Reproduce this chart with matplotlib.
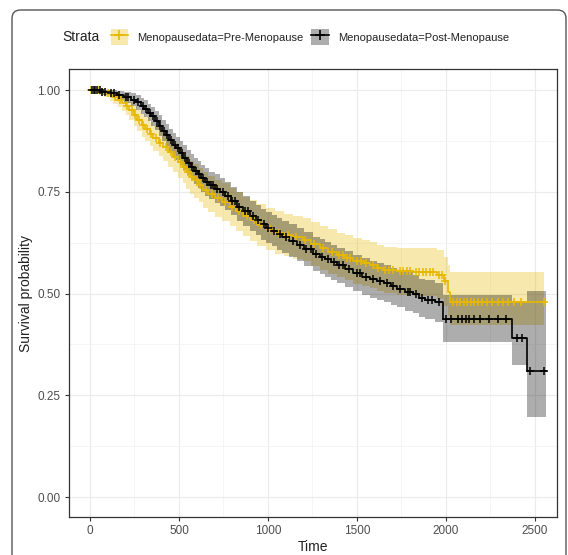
import numpy as np
import matplotlib
matplotlib.use("Agg")
import matplotlib.pyplot as plt
from matplotlib.patches import Rectangle, FancyBboxPatch
from matplotlib.lines import Line2D
from matplotlib.ticker import MultipleLocator

plt.rcParams['font.family'] = ['Liberation Sans', 'DejaVu Sans']

# Kaplan-Meier estimates: Pre-Menopause (time, survival, 95% CI)
t_pre = [0, 50, 80, 110, 130, 155, 180, 200, 220, 245, 264, 290, 310, 335, 355, 385, 410, 440,
         466, 495, 520, 540, 562, 585, 610, 635, 665, 700, 740, 787, 820, 860, 900, 938, 990,
         1040, 1090, 1140, 1197, 1240, 1290, 1340, 1388, 1430, 1480, 1530, 1573, 1610, 1650,
         1725, 1815, 1950, 1990, 2010, 2025]
s_pre = [1.000, 0.996, 0.993, 0.988, 0.983, 0.976, 0.968, 0.960, 0.951, 0.939, 0.927, 0.915,
         0.905, 0.893, 0.882, 0.870, 0.860, 0.848, 0.836, 0.823, 0.810, 0.798, 0.787, 0.778,
         0.767, 0.755, 0.745, 0.735, 0.725, 0.713, 0.702, 0.690, 0.680, 0.669, 0.659, 0.650,
         0.644, 0.638, 0.632, 0.622, 0.612, 0.603, 0.595, 0.588, 0.580, 0.575, 0.570, 0.563,
         0.558, 0.555, 0.553, 0.546, 0.530, 0.505, 0.480]
lo_pre = [1.000, 0.988, 0.982, 0.974, 0.967, 0.958, 0.948, 0.938, 0.927, 0.913, 0.900, 0.886,
          0.875, 0.862, 0.850, 0.837, 0.826, 0.812, 0.799, 0.785, 0.771, 0.758, 0.746, 0.736,
          0.724, 0.711, 0.700, 0.689, 0.678, 0.665, 0.653, 0.641, 0.630, 0.618, 0.608, 0.598,
          0.592, 0.586, 0.579, 0.568, 0.558, 0.549, 0.540, 0.533, 0.524, 0.519, 0.513, 0.506,
          0.501, 0.497, 0.495, 0.487, 0.470, 0.445, 0.423]
hi_pre = [1.000, 1.000, 1.000, 0.998, 0.995, 0.990, 0.985, 0.978, 0.971, 0.961, 0.951, 0.941,
          0.933, 0.922, 0.913, 0.902, 0.893, 0.882, 0.871, 0.860, 0.848, 0.837, 0.827, 0.819,
          0.809, 0.798, 0.789, 0.780, 0.771, 0.760, 0.750, 0.738, 0.729, 0.719, 0.710, 0.702,
          0.696, 0.691, 0.686, 0.676, 0.666, 0.658, 0.650, 0.643, 0.636, 0.631, 0.627, 0.620,
          0.615, 0.612, 0.611, 0.606, 0.591, 0.570, 0.552]
end_pre = 2550
cens_pre = [5, 25, 45, 65, 100, 140, 170, 210, 235, 255, 275, 300, 320, 345, 370, 395, 425,
            455, 480, 510, 530, 550, 575, 600, 620, 650, 685, 720, 760, 800, 840, 880, 920, 960,
            1010, 1060, 1110, 1160, 1210, 1260, 1310, 1360, 1400, 1420, 1445, 1460, 1500, 1520,
            1550, 1590, 1620, 1660, 1680, 1700, 1740, 1760, 1780, 1800, 1830, 1850, 1870, 1890,
            1910, 1930, 1960, 1980, 1995, 2040, 2060, 2080, 2100, 2120, 2140, 2160, 2180, 2200,
            2230, 2260, 2290, 2320, 2350, 2380, 2420, 2550]

# Kaplan-Meier estimates: Post-Menopause (time, survival, 95% CI)
t_post = [0, 60, 110, 150, 190, 230, 260, 285, 305, 325, 345, 365, 385, 405, 425, 445, 465,
          485, 505, 525, 545, 565, 585, 605, 625, 645, 670, 700, 730, 760, 790, 826, 860, 900,
          930, 960, 990, 1020, 1050, 1080, 1120, 1163, 1200, 1253, 1290, 1320, 1355, 1388, 1430,
          1480, 1530, 1573, 1610, 1650, 1690, 1725, 1770, 1815, 1850, 1880, 1940, 1985, 2370,
          2455]
s_post = [1.000, 0.996, 0.992, 0.987, 0.983, 0.977, 0.970, 0.962, 0.954, 0.945, 0.936, 0.925,
          0.913, 0.900, 0.889, 0.877, 0.866, 0.857, 0.846, 0.834, 0.822, 0.811, 0.802, 0.793,
          0.783, 0.774, 0.766, 0.758, 0.750, 0.740, 0.727, 0.714, 0.703, 0.691, 0.680, 0.670,
          0.662, 0.655, 0.647, 0.640, 0.630, 0.620, 0.610, 0.598, 0.591, 0.585, 0.577, 0.570,
          0.560, 0.550, 0.542, 0.535, 0.530, 0.525, 0.518, 0.512, 0.505, 0.499, 0.490, 0.485,
          0.479, 0.437, 0.390, 0.310]
lo_post = [1.000, 0.988, 0.982, 0.975, 0.969, 0.961, 0.952, 0.942, 0.933, 0.923, 0.913, 0.901,
           0.888, 0.874, 0.862, 0.849, 0.837, 0.828, 0.816, 0.803, 0.791, 0.779, 0.770, 0.760,
           0.750, 0.740, 0.732, 0.723, 0.715, 0.705, 0.692, 0.678, 0.667, 0.654, 0.643, 0.632,
           0.624, 0.617, 0.608, 0.600, 0.590, 0.579, 0.569, 0.556, 0.549, 0.542, 0.534, 0.527,
           0.516, 0.506, 0.497, 0.490, 0.485, 0.479, 0.472, 0.466, 0.458, 0.452, 0.443, 0.437,
           0.431, 0.381, 0.325, 0.197]
hi_post = [1.000, 1.000, 1.000, 0.998, 0.996, 0.992, 0.987, 0.981, 0.975, 0.967, 0.959, 0.949,
           0.938, 0.926, 0.916, 0.905, 0.895, 0.886, 0.876, 0.865, 0.853, 0.843, 0.834, 0.826,
           0.816, 0.808, 0.800, 0.793, 0.785, 0.775, 0.762, 0.750, 0.739, 0.728, 0.717, 0.708,
           0.700, 0.693, 0.686, 0.679, 0.670, 0.661, 0.651, 0.640, 0.633, 0.628, 0.620, 0.613,
           0.604, 0.594, 0.587, 0.580, 0.575, 0.571, 0.564, 0.558, 0.552, 0.546, 0.537, 0.533,
           0.527, 0.497, 0.480, 0.506]
end_post = 2565
cens_post = [10, 20, 30, 40, 55, 70, 85, 120, 135, 165, 200, 215, 245, 270, 295, 315, 335, 355,
             375, 395, 415, 435, 455, 475, 495, 515, 535, 555, 575, 595, 615, 635, 655, 680, 690,
             715, 745, 775, 800, 815, 840, 870, 885, 915, 945, 975, 1000, 1035, 1065, 1100, 1140,
             1180, 1215, 1240, 1270, 1305, 1340, 1370, 1400, 1420, 1455, 1500, 1515, 1550, 1590,
             1630, 1670, 1700, 1740, 1785, 1800, 1830, 1865, 1900, 1920, 1960, 2000, 2030, 2070,
             2090, 2110, 2130, 2160, 2190, 2240, 2290, 2340, 2400, 2430, 2470, 2550]

labels = ["Menopausedata=Pre-Menopause", "Menopausedata=Post-Menopause"]
colors = ["#E7B800", "#000000"]
x_ticks = [0, 500, 1000, 1500, 2000, 2500]
y_ticks = [0.00, 0.25, 0.50, 0.75, 1.00]

fig = plt.figure(figsize=(5.68, 5.55), dpi=100)
ax = fig.add_axes([69 / 568, 1 - 517 / 555, (557 - 69) / 568, (517 - 69) / 555])

groups = [
    (t_pre, s_pre, lo_pre, hi_pre, end_pre, cens_pre),
    (t_post, s_post, lo_post, hi_post, end_post, cens_post),
]
for (t, s, lo, hi, end, cens), col in zip(groups, colors):
    tt = np.append(t, end)
    ll = np.append(lo, lo[-1])
    hh = np.append(hi, hi[-1])
    ax.fill_between(tt, ll, hh, step='post', color=col, alpha=0.32, linewidth=0, zorder=2)
for (t, s, lo, hi, end, cens), col in zip(groups, colors):
    tt = np.append(t, end)
    ss = np.append(s, s[-1])
    ax.step(tt, ss, where='post', color=col, lw=1.2, zorder=3)
    idx = np.searchsorted(t, cens, side='right') - 1
    ax.plot(cens, np.asarray(s)[idx], ls='none', marker='+', ms=6, mew=1.1,
            color=col, zorder=4)

ax.set_xlim(-118, 2624)
ax.set_ylim(-0.049, 1.052)
ax.set_xticks(x_ticks)
ax.set_yticks(y_ticks)
ax.set_yticklabels([f"{v:.2f}" for v in y_ticks])
ax.xaxis.set_minor_locator(MultipleLocator(250))
ax.yaxis.set_minor_locator(MultipleLocator(0.125))
ax.grid(True, which='major', color='#EBEBEB', lw=0.8, zorder=0)
ax.grid(True, which='minor', color='#F2F2F2', lw=0.5, zorder=0)
ax.set_axisbelow(True)
ax.tick_params(which='major', length=3, width=0.8, color='#333333', labelsize=8.5,
               labelcolor='#4D4D4D', pad=3)
ax.tick_params(which='minor', length=0)
for sp in ax.spines.values():
    sp.set_color('#333333')
    sp.set_linewidth(0.9)
ax.set_xlabel("Time", fontsize=10, color='#222222', labelpad=2)
ax.set_ylabel("Survival probability", fontsize=10, color='#222222', labelpad=3)

# legend across the top
fig.text(62 / 568, 1 - 37 / 555, "Strata", fontsize=10, color='#222222', va='center', ha='left')
handles = []
for col in colors:
    box = Rectangle((0, 0), 1, 1, facecolor=col, alpha=0.32, edgecolor='none')
    ln = Line2D([], [], color=col, lw=1.2, marker='+', ms=7, mew=1.2)
    handles.append((box, ln))
fig.legend(handles, labels, ncol=2, loc='center left',
           bbox_to_anchor=(105 / 568, 1 - 37 / 555), frameon=False, fontsize=8,
           handlelength=1.6, handleheight=1.8, handletextpad=0.8, columnspacing=0.7,
           borderpad=0, labelcolor='#222222')

# outer rounded frame
frame = FancyBboxPatch((12 / 568, -0.05), (566 - 12) / 568, 1 - 10 / 555 + 0.05,
                       boxstyle="round,pad=0,rounding_size=0.015",
                       transform=fig.transFigure, fill=False, edgecolor='#555555', lw=1.0)
fig.add_artist(frame)

fig.savefig("out.png", dpi=100)
